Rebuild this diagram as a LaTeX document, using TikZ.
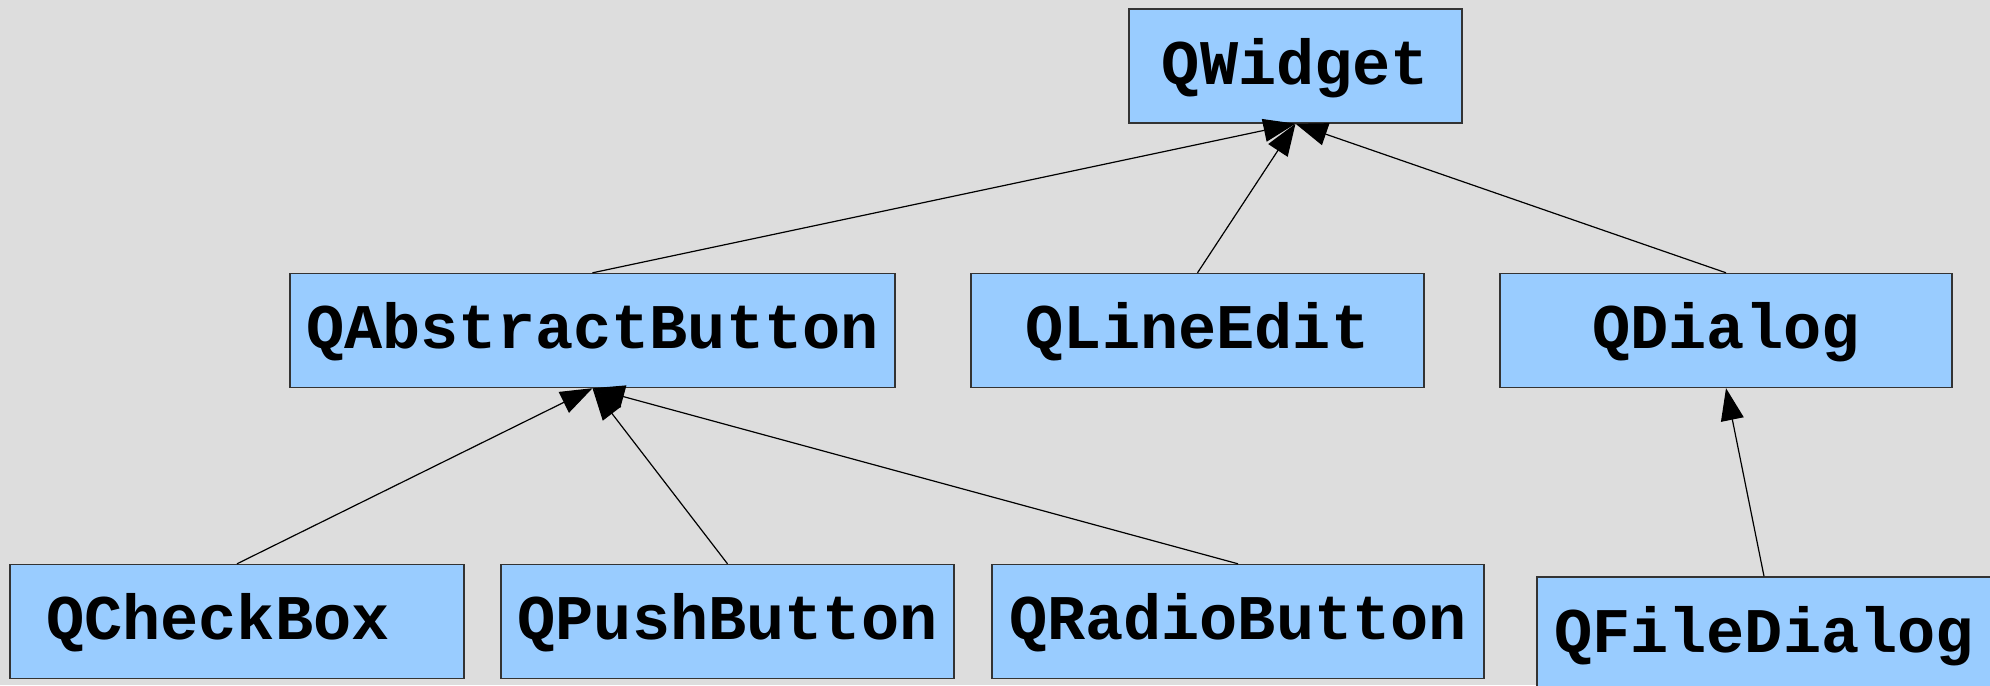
\documentclass[tikz,border=0pt]{standalone}
\usepackage{fontspec}
\setmonofont{Liberation Mono}
\usetikzlibrary{arrows.meta}
\definecolor{bgcol}{HTML}{DDDDDD}
\definecolor{boxfill}{HTML}{99CCFF}
\definecolor{boxline}{HTML}{333333}
\tikzset{
  cls/.style={draw=boxline, line width=0.7pt, fill=boxfill, rectangle,
    minimum height=57pt, inner sep=0pt, text height=18pt, text depth=0pt,
    font=\ttfamily\bfseries\fontsize{31.8pt}{36pt}\selectfont},
  inh/.style={draw=black, line width=0.6pt, -{Triangle[length=16pt,width=11.5pt]}}
}
\begin{document}
\begin{tikzpicture}[x=0.5pt,y=-0.5pt]
\fill[bgcol] (0,0) rectangle (1990,685);
\useasboundingbox (0,0) rectangle (1990,685);
\clip (0,0) rectangle (1990,685);
\node[cls, minimum width=166.5pt] (qwidget) at (1295.5,66) {QWidget};
\node[cls, minimum width=302.5pt] (qab) at (592.5,330.5) {QAbstractButton};
\node[cls, minimum width=226.5pt] (qle) at (1197.5,330.5) {QLineEdit};
\node[cls, minimum width=226pt] (qdlg) at (1726,330.5) {QDialog};
\node[cls, minimum width=227pt] (qcb) at (237,621.5) {QCheckBox\phantom{x}};
\node[cls, minimum width=226.5pt] (qpb) at (727.5,621.5) {QPushButton};
\node[cls, minimum width=246pt] (qrb) at (1238,621.5) {QRadioButton};
\node[cls, minimum width=227pt] (qfd) at (1764,634) {QFileDialog};
\draw[inh] (qab.north) -- (qwidget.south);
\draw[inh] (qle.north) -- (qwidget.south);
\draw[inh] (qdlg.north) -- (qwidget.south);
\draw[inh] (qcb.north) -- (qab.south);
\draw[inh] (qpb.north) -- (qab.south);
\draw[inh] (qrb.north) -- (qab.south);
\draw[inh] (qfd.north) -- (qdlg.south);
\end{tikzpicture}
\end{document}
